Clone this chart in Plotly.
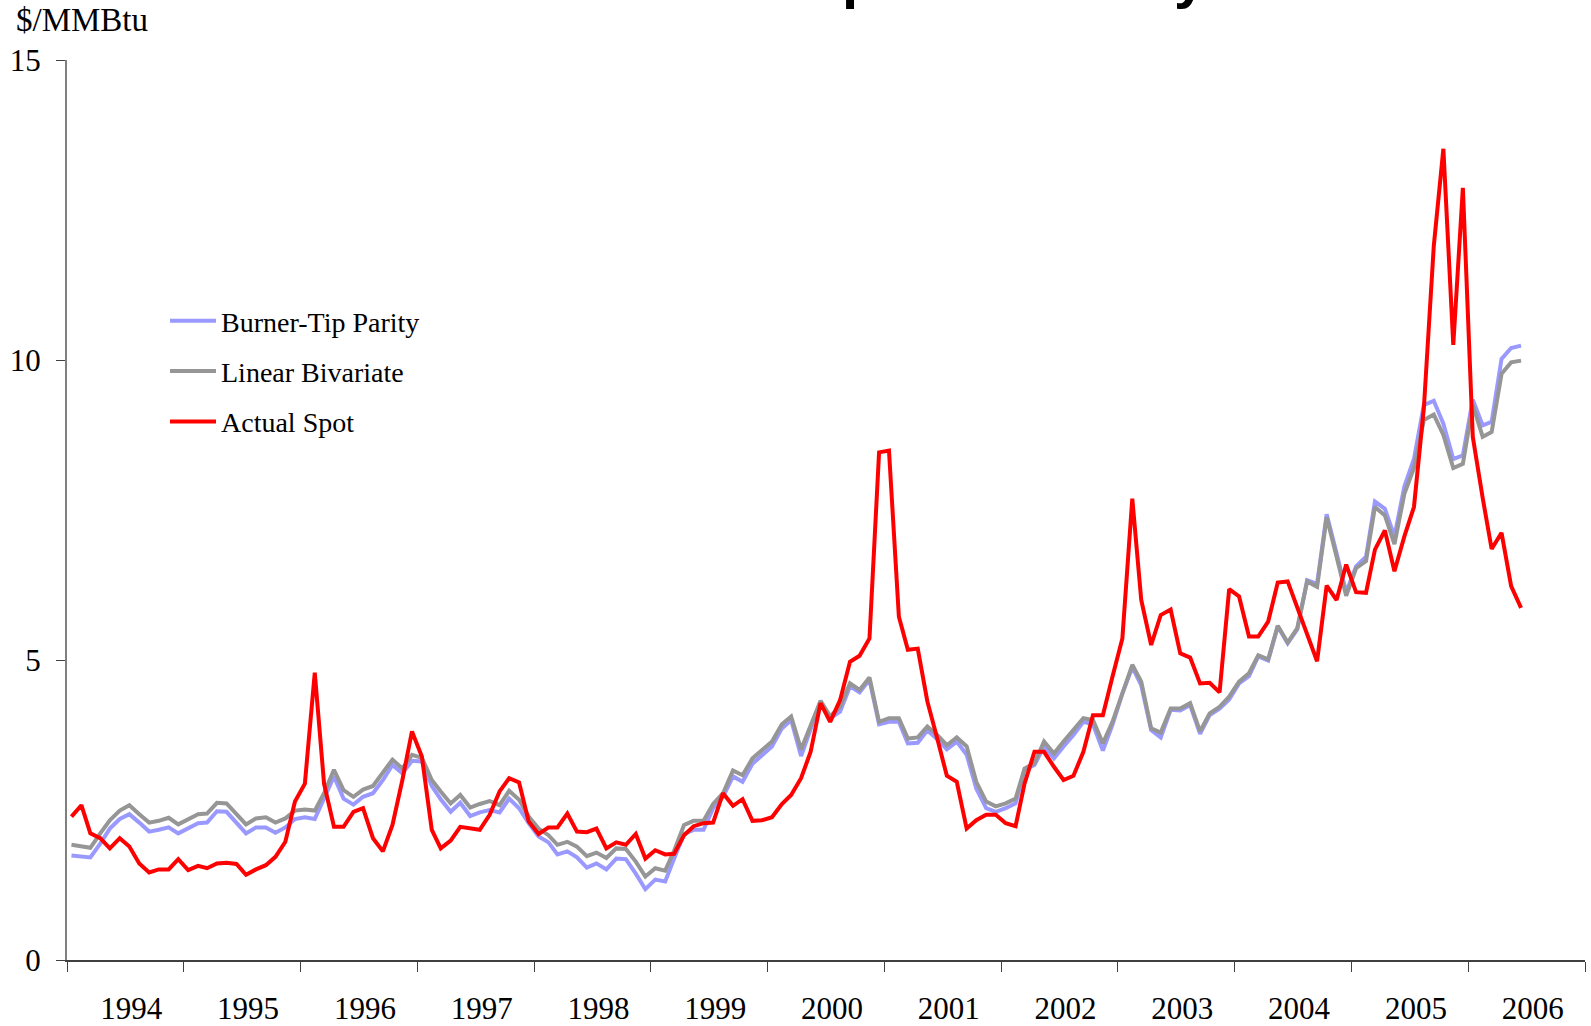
import pandas as pd
import plotly.graph_objects as go

# Monthly observations, Jan 1994 - Jun 2006 ($/MMBtu)
start_month = "1994-01-01"
n_months = 150

burner_tip_parity = [
    1.74, 1.72, 1.71, 1.94, 2.19, 2.35, 2.43, 2.29, 2.14, 2.17, 2.21, 2.11,
    2.19, 2.28, 2.29, 2.48, 2.47, 2.28, 2.11, 2.21, 2.21, 2.12, 2.21, 2.35,
    2.38, 2.35, 2.68, 3.06, 2.69, 2.59, 2.72, 2.78, 3.00, 3.25, 3.11, 3.32,
    3.31, 2.90, 2.68, 2.47, 2.62, 2.40, 2.46, 2.50, 2.46, 2.69, 2.53, 2.28,
    2.06, 1.96, 1.76, 1.81, 1.71, 1.54, 1.61, 1.51, 1.69, 1.68, 1.44, 1.18,
    1.34, 1.31, 1.69, 2.10, 2.17, 2.17, 2.53, 2.72, 3.06, 2.97, 3.27, 3.42,
    3.56, 3.86, 4.00, 3.40, 3.83, 4.31, 4.03, 4.14, 4.56, 4.46, 4.67, 3.93,
    3.97, 3.97, 3.61, 3.62, 3.83, 3.68, 3.51, 3.64, 3.42, 2.86, 2.53, 2.47,
    2.53, 2.61, 3.17, 3.25, 3.56, 3.36, 3.56, 3.75, 3.97, 3.93, 3.49, 3.92,
    4.44, 4.88, 4.58, 3.83, 3.71, 4.17, 4.16, 4.25, 3.77, 4.08, 4.19, 4.34,
    4.61, 4.73, 5.06, 4.99, 5.56, 5.28, 5.51, 6.33, 6.27, 7.43, 6.78, 6.13,
    6.56, 6.72, 7.64, 7.52, 7.06, 7.89, 8.35, 9.25, 9.32, 8.94, 8.35, 8.41,
    9.34, 8.91, 8.97, 10.02, 10.20, 10.24,
]

linear_bivariate = [
    1.92, 1.89, 1.87, 2.11, 2.33, 2.49, 2.58, 2.43, 2.29, 2.32, 2.37, 2.26,
    2.35, 2.43, 2.44, 2.62, 2.61, 2.42, 2.26, 2.36, 2.38, 2.29, 2.36, 2.49,
    2.51, 2.49, 2.78, 3.17, 2.83, 2.72, 2.84, 2.90, 3.11, 3.34, 3.19, 3.42,
    3.37, 3.00, 2.81, 2.61, 2.75, 2.54, 2.60, 2.65, 2.58, 2.82, 2.67, 2.39,
    2.19, 2.08, 1.92, 1.97, 1.89, 1.73, 1.79, 1.70, 1.86, 1.85, 1.64, 1.39,
    1.53, 1.49, 1.82, 2.25, 2.32, 2.32, 2.60, 2.78, 3.16, 3.08, 3.36, 3.49,
    3.64, 3.93, 4.06, 3.51, 3.89, 4.32, 4.06, 4.22, 4.61, 4.50, 4.71, 3.97,
    4.03, 4.03, 3.69, 3.71, 3.89, 3.75, 3.58, 3.71, 3.56, 2.97, 2.64, 2.56,
    2.61, 2.69, 3.19, 3.28, 3.64, 3.44, 3.64, 3.83, 4.03, 4.00, 3.61, 3.97,
    4.47, 4.92, 4.64, 3.86, 3.79, 4.19, 4.19, 4.28, 3.81, 4.11, 4.22, 4.39,
    4.64, 4.78, 5.08, 5.01, 5.57, 5.29, 5.53, 6.31, 6.22, 7.38, 6.72, 6.07,
    6.53, 6.65, 7.55, 7.41, 6.93, 7.77, 8.20, 9.00, 9.09, 8.75, 8.20, 8.27,
    9.25, 8.72, 8.80, 9.77, 9.96, 9.99,
]

actual_spot = [
    2.39, 2.58, 2.11, 2.03, 1.86, 2.03, 1.89, 1.61, 1.46, 1.51, 1.51, 1.68,
    1.50, 1.57, 1.53, 1.61, 1.62, 1.60, 1.42, 1.51, 1.58, 1.72, 1.97, 2.64,
    2.94, 4.79, 2.94, 2.22, 2.22, 2.47, 2.53, 2.03, 1.81, 2.25, 3.00, 3.81,
    3.39, 2.17, 1.86, 1.99, 2.22, 2.19, 2.17, 2.42, 2.81, 3.03, 2.96, 2.31,
    2.10, 2.21, 2.21, 2.44, 2.14, 2.13, 2.19, 1.86, 1.96, 1.92, 2.10, 1.69,
    1.83, 1.76, 1.77, 2.08, 2.23, 2.28, 2.29, 2.78, 2.57, 2.68, 2.32, 2.33,
    2.38, 2.60, 2.75, 3.03, 3.47, 4.28, 3.97, 4.33, 4.97, 5.07, 5.36, 8.46,
    8.49, 5.72, 5.17, 5.19, 4.31, 3.69, 3.07, 2.97, 2.19, 2.33, 2.42, 2.42,
    2.28, 2.23, 2.94, 3.47, 3.47, 3.22, 3.00, 3.07, 3.47, 4.08, 4.08, 4.72,
    5.36, 7.69, 6.00, 5.25, 5.75, 5.84, 5.11, 5.04, 4.61, 4.62, 4.46, 6.18,
    6.06, 5.39, 5.39, 5.64, 6.29, 6.31, 5.88, 5.43, 4.98, 6.24, 6.00, 6.59,
    6.13, 6.12, 6.84, 7.16, 6.48, 7.06, 7.55, 9.20, 11.90, 13.52, 10.25, 12.87,
    8.72, 7.70, 6.85, 7.12, 6.23, 5.87,
]

series_names = ["Burner-Tip Parity", "Linear Bivariate", "Actual Spot"]
series_colors = ["#9999FF", "#969696", "#FF0000"]
y_ticks = [0, 5, 10, 15]
y_unit = "$/MMBtu"
title_text = "Actual Spot vs. Parity"

dates = pd.date_range(start_month, periods=n_months, freq="MS") + pd.Timedelta(days=14)

SERIF = "Liberation Serif, Times New Roman, serif"

fig = go.Figure()
for i, (name, vals, col) in enumerate(zip(series_names,
                                          [burner_tip_parity, linear_bivariate, actual_spot],
                                          series_colors)):
    fig.add_trace(go.Scatter(
        x=dates, y=vals, mode="lines", name=name,
        line=dict(color=col, width=4),
        legendgroup=f"g{i}",
    ))

W, H = 1591, 1026
L, R, T, B = 67, 6, 60, 66
PW, PH = W - L - R, H - T - B

fig.update_layout(
    width=W, height=H,
    margin=dict(l=L, r=R, t=T, b=B, autoexpand=False),
    paper_bgcolor="white", plot_bgcolor="white",
    font=dict(family=SERIF, size=31, color="black"),
    showlegend=True,
    legend=dict(
        x=(165 - L) / PW, y=(960 - 296) / PH,
        xanchor="left", yanchor="top",
        font=dict(family=SERIF, size=28, color="black"),
        bgcolor="rgba(0,0,0,0)",
        tracegroupgap=11,
        itemwidth=46,
        traceorder="grouped",
    ),
    xaxis=dict(
        type="date", automargin=False,
        range=["1994-01-01", "2007-01-01"],
        tick0="1994-01-01", dtick="M12",
        tickformat="%Y", ticklabelmode="period",
        ticklabelshift=6,
        ticks="outside", ticklen=10, tickwidth=1, tickcolor="#404040",
        showline=True, linecolor="#404040", linewidth=2,
        showgrid=False, zeroline=False,
        tickfont=dict(family=SERIF, size=31, color="black"),
        ticklabelstandoff=10,
    ),
    yaxis=dict(
        range=[0, 15], tickvals=y_ticks, automargin=False,
        ticks="outside", ticklen=9, tickwidth=1, tickcolor="#404040",
        showline=True, linecolor="#808080", linewidth=2,
        showgrid=False, zeroline=False,
        tickfont=dict(family=SERIF, size=31, color="black"),
        ticklabelstandoff=9,
    ),
    annotations=[
        dict(text=y_unit, xref="paper", yref="paper",
             x=(14 - L) / PW, y=(960 - 20) / PH,
             xanchor="left", yanchor="middle", showarrow=False,
             font=dict(family=SERIF, size=33, color="black")),
        dict(text=f"<b>{title_text}</b>", xref="paper", yref="paper",
             x=(1208 - L) / PW, y=(960 - 10.5) / PH,
             xanchor="right", yanchor="bottom", showarrow=False,
             font=dict(family="Liberation Sans, Arial, sans-serif", size=58, color="black")),
    ],
)

fig.write_html("out.html",
               config={"displayModeBar": False},
               post_script="document.body.style.margin='0px';document.body.style.overflow='hidden';")
